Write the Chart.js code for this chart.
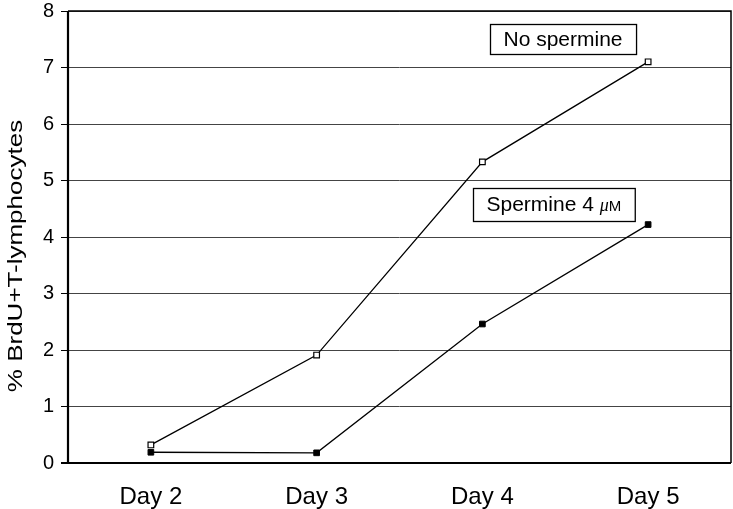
<!DOCTYPE html>
<html>
<head>
<meta charset="utf-8">
<script src="https://cdn.jsdelivr.net/npm/chart.js@4"></script>
<style>
  html, body { margin: 0; padding: 0; background: #fff; overflow: hidden; }
  canvas { display: block; }
</style>
</head>
<body>
<canvas id="bc" width="733" height="509"></canvas>
<script>
var days = ['Day 2', 'Day 3', 'Day 4', 'Day 5'];
var noSpermine = [0.32, 1.91, 5.33, 7.1];
var spermine4 = [0.19, 0.18, 2.46, 4.22];
var yTicks = [0, 1, 2, 3, 4, 5, 6, 7, 8];
var yTitle = '% BrdU+T-lymphocytes';

// text boxes sitting inside the plot, anchored in data units (category index, y)
var boxLabels = [
  { text: 'No spermine', at: [2.486, 7.5] },
  { text: 'Spermine 4 ', unit: 'μM', at: [2.43, 4.58] }
];

var sans = '"Liberation Sans", Arial, sans-serif';

var boxPlugin = {
  id: 'boxes',
  afterDatasetsDraw: function(chart) {
    var ctx = chart.ctx;
    var xs = chart.scales.x, ys = chart.scales.y;
    ctx.save();
    boxLabels.forEach(function(b) {
      var cx = xs.getPixelForValue(b.at[0]);
      var cy = ys.getPixelForValue(b.at[1]);
      ctx.font = '21px ' + sans;
      var w1 = ctx.measureText(b.text).width;
      var w2 = 0;
      if (b.unit) {
        ctx.font = 'italic 18px "Liberation Serif", serif';
        w2 = ctx.measureText('μ').width;
        ctx.font = '15px ' + sans;
        w2 += ctx.measureText('M').width;
      }
      var w = w1 + w2 + 27, h = b.unit ? 33 : 30;
      var x0 = Math.round(cx - w / 2) + 0.5, y0 = Math.round(cy - h / 2) + 0.5;
      ctx.fillStyle = '#fff';
      ctx.fillRect(x0, y0, w, h);
      ctx.strokeStyle = '#000';
      ctx.lineWidth = 1.3;
      ctx.strokeRect(x0, y0, w, h);
      ctx.fillStyle = '#000';
      ctx.textBaseline = 'middle';
      ctx.textAlign = 'left';
      ctx.font = '21px ' + sans;
      ctx.fillText(b.text, x0 + 13, cy + 1);
      if (b.unit) {
        var ux = x0 + 13 + w1;
        ctx.font = 'italic 18px "Liberation Serif", serif';
        ctx.fillText('μ', ux, cy + 2);
        ux += ctx.measureText('μ').width;
        ctx.font = '15px ' + sans;
        ctx.fillText('M', ux, cy + 3);
      }
    });
    ctx.restore();
  }
};

var frame = {
  id: 'frame',
  afterDraw: function(chart) {
    var a = chart.chartArea, ctx = chart.ctx;
    ctx.save();
    ctx.strokeStyle = '#000';
    ctx.lineWidth = 1.5;
    ctx.beginPath();
    ctx.moveTo(a.left, a.top);
    ctx.lineTo(a.right, a.top);
    ctx.lineTo(a.right, a.bottom);
    ctx.stroke();
    ctx.lineWidth = 2.2;
    ctx.beginPath();
    ctx.moveTo(a.left - 7, a.bottom);
    ctx.lineTo(a.right, a.bottom);
    ctx.moveTo(a.left, a.top);
    ctx.lineTo(a.left, a.bottom);
    ctx.stroke();
    // y axis title, drawn a little wide like the source figure
    ctx.translate(16, (a.top + a.bottom) / 2 + 19);
    ctx.rotate(-Math.PI / 2);
    ctx.scale(1.3, 1);
    ctx.fillStyle = '#000';
    ctx.textAlign = 'center';
    ctx.textBaseline = 'middle';
    ctx.font = '20px ' + sans;
    ctx.fillText(yTitle, 0, 0);
    ctx.restore();
  }
};

new Chart(document.getElementById('bc'), {
  type: 'line',
  data: {
    labels: days,
    datasets: [
      {
        label: 'No spermine',
        data: noSpermine,
        borderColor: '#000',
        borderWidth: 1.3,
        tension: 0,
        pointStyle: 'rect',
        pointRadius: 4,
        pointBorderWidth: 1.2,
        pointBackgroundColor: '#fff',
        pointBorderColor: '#000'
      },
      {
        label: 'Spermine 4 μM',
        data: spermine4,
        borderColor: '#000',
        borderWidth: 1.3,
        tension: 0,
        pointStyle: 'rect',
        pointRadius: 4,
        pointBorderWidth: 1,
        pointBackgroundColor: '#000',
        pointBorderColor: '#000'
      }
    ]
  },
  options: {
    responsive: false,
    animation: false,
    layout: { autoPadding: false, padding: { top: 11, right: 2, left: 0, bottom: 0 } },
    plugins: { legend: { display: false }, tooltip: { enabled: false } },
    scales: {
      x: {
        offset: true,
        grid: { display: false },
        border: { display: false },
        ticks: { color: '#000', padding: 12, font: { family: sans, size: 24 } },
        afterFit: function(s) { s.height = 46; s.paddingLeft = 0; s.paddingRight = 0; }
      },
      y: {
        min: 0,
        max: 8,
        afterBuildTicks: function(s) { s.ticks = yTicks.map(function(v) { return { value: v }; }); },
        grid: { color: '#444', lineWidth: 1, tickLength: 7, drawTicks: true, tickColor: '#000' },
        border: { display: false },
        ticks: { color: '#000', padding: 7, font: { family: sans, size: 20 } },
        afterFit: function(s) { s.width = 68; s.paddingTop = 0; s.paddingBottom = 0; }
      }
    }
  },
  plugins: [boxPlugin, frame]
});
</script>
</body>
</html>
